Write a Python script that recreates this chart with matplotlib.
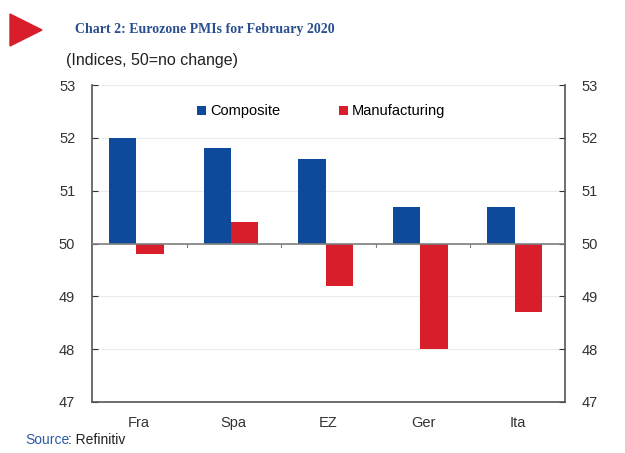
import numpy as np
import matplotlib
matplotlib.use('Agg')
import matplotlib.pyplot as plt
from matplotlib.patches import Polygon

countries = ['Fra', 'Spa', 'EZ', 'Ger', 'Ita']
composite = [52.0, 51.8, 51.6, 50.7, 50.7]
manufacturing = [49.8, 50.4, 49.2, 48.0, 48.7]
base = 50

blue = '#0d4a9b'
red = '#d81e2a'

plt.rcParams['font.family'] = ['Liberation Sans', 'DejaVu Sans']

fig = plt.figure(figsize=(6.25, 4.53), dpi=100)
ax = fig.add_axes([0.147, 0.1126, 0.757, 0.8123 - 0.1126])

x = np.arange(len(countries))
w = 0.29
comp = np.array(composite) - base
manu = np.array(manufacturing) - base
ax.bar(x - w / 2 - 0.03, comp, w, bottom=base, color=blue, label='Composite', zorder=3)
ax.bar(x + w / 2 - 0.03, manu, w, bottom=base, color=red, label='Manufacturing', zorder=3)

ax.set_xlim(-0.5, len(countries) - 0.5)
ax.set_ylim(47, 53)
ax.set_yticks(range(47, 54))
for v in range(48, 54):
    ax.axhline(v, color='#ececec', lw=0.8, zorder=1)
ax.axhline(base, color='#7f7f7f', lw=1.2, zorder=4)

# small category-boundary ticks on the 50 line
for b in np.arange(0.5, len(countries) - 0.5, 1):
    ax.plot([b, b], [base, base - 0.06], color='#7f7f7f', lw=0.8, zorder=4)

ax.set_xticks(x)
ax.set_xticklabels(countries, fontsize=10.5, color='#333333')
ax.tick_params(axis='x', length=0, pad=10)
ax.tick_params(axis='y', labelsize=10.5, colors='#333333', length=4, direction='in',
               left=True, right=True, labelleft=True, labelright=True, pad=12)
for s in ['left', 'right', 'bottom']:
    ax.spines[s].set_color('#555555')
    ax.spines[s].set_linewidth(1.2)
ax.spines['top'].set_visible(False)

ax.legend(loc='upper center', bbox_to_anchor=(0.485, 0.98), ncol=2, frameon=False,
          fontsize=10.5, handlelength=0.6, handleheight=0.6, columnspacing=4.0,
          handletextpad=0.3)

# header
tri = Polygon([[10 / 625, 1 - 14 / 453], [10 / 625, 1 - 46 / 453], [42 / 625, 1 - 30 / 453]],
              closed=True, transform=fig.transFigure, color=red)
fig.patches.append(tri)
fig.text(75 / 625, 1 - 30 / 453, 'Chart 2: Eurozone PMIs for February 2020',
         family=['Liberation Serif', 'DejaVu Serif'], fontsize=10, color='#2a4f8f',
         va='center', ha='left', fontweight='bold', fontstretch='condensed')
fig.text(66 / 625, 1 - 60 / 453, '(Indices, 50=no change)', fontsize=11.5,
         color='#222222', va='center', ha='left')
fig.text(25 / 625, 1 - 440 / 453, 'Source', fontsize=10, color='#2a5aa8', va='center')
fig.text(68 / 625, 1 - 440 / 453, ': Refinitiv', fontsize=10, color='#222222', va='center')

fig.savefig('out.png', dpi=100)
